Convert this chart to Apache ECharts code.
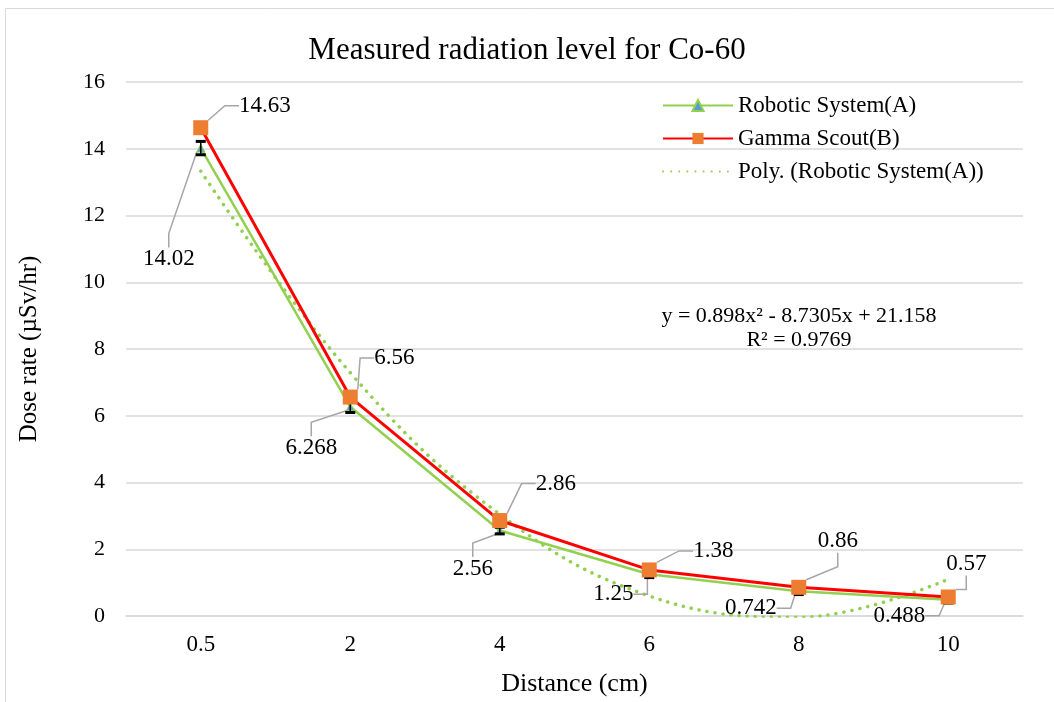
<!DOCTYPE html>
<html>
<head>
<meta charset="utf-8">
<script src="https://cdn.jsdelivr.net/npm/echarts@6/dist/echarts.min.js"></script>
<style>
  html, body { margin: 0; padding: 0; background: #fff; }
  #main { width: 1054px; height: 702px; }
</style>
</head>
<body>
<div id="main"></div>
<script>
// data
const distances = ['0.5', '2', '4', '6', '8', '10'];
const robotA = [14.02, 6.268, 2.56, 1.25, 0.742, 0.488];
const gammaB = [14.63, 6.56, 2.86, 1.38, 0.86, 0.57];
const polyTrendA = [13.33, 7.29, 3.05, 0.60, -0.04, 1.10];
const errA = [0.2, 0.17, 0.1, 0.1, 0.1, 0.1];
const trendText = ['y = 0.898x\u00b2 - 8.7305x + 21.158', 'R\u00b2 = 0.9769'];

const font = "'Liberation Serif', 'Times New Roman', serif";

// label offsets (px from the marker centre)
const offB = [[64, -22], [44, -39], [56, -37], [64, -19], [39, -46], [18, -33]];
const offA = [[-32, 111], [-39, 41], [-27, 38], [-36, 20], [-48, 17], [-49, 16]];

function placeLabel(offsets) {
  return function (params) {
    let o = offsets[params.dataIndex];
    return {
      x: params.rect.x + params.rect.width / 2 + o[0],
      y: params.rect.y + params.rect.height / 2 + o[1],
      align: 'center',
      verticalAlign: 'middle'
    };
  };
}

let myChart = echarts.init(document.getElementById('main'));

let options = {
  backgroundColor: '#fff',
  textStyle: { fontFamily: font, color: '#000' },
  title: {
    text: 'Measured radiation level for Co-60',
    left: 'center',
    top: 30,
    textStyle: { fontFamily: font, fontSize: 31, fontWeight: 'normal', color: '#000' }
  },
  grid: { left: 126, right: 31, top: 82, bottom: 82 },
  legend: {
    data: [
      { name: 'Robotic System(A)' },
      { name: 'Gamma Scout(B)' },
      { name: 'Poly. (Robotic System(A))', itemStyle: { opacity: 0 } }
    ],
    orient: 'vertical',
    left: 657,
    top: 89,
    itemWidth: 70,
    itemHeight: 14,
    itemGap: 10,
    textStyle: { fontFamily: font, fontSize: 23, color: '#000' }
  },
  xAxis: {
    type: 'category',
    data: distances,
    name: 'Distance (cm)',
    nameLocation: 'middle',
    nameGap: 55,
    nameTextStyle: { fontFamily: font, fontSize: 26, color: '#000' },
    axisLine: { lineStyle: { color: '#d9d9d9', width: 1.5 } },
    axisTick: { show: false },
    axisLabel: { fontFamily: font, fontSize: 23, color: '#000', margin: 17 }
  },
  yAxis: {
    type: 'value',
    min: 0,
    max: 16,
    interval: 2,
    name: 'Dose rate (\u00b5Sv/hr)',
    nameLocation: 'middle',
    nameGap: 84,
    nameTextStyle: { fontFamily: font, fontSize: 25, color: '#000' },
    axisLine: { show: false },
    axisTick: { show: false },
    splitLine: { lineStyle: { color: '#d9d9d9', width: 1.5 } },
    axisLabel: { fontFamily: font, fontSize: 22, color: '#000', margin: 21 }
  },
  graphic: [
    {
      type: 'rect',
      shape: { x: 5.5, y: 8.5, width: 1060, height: 700 },
      style: { fill: 'none', stroke: '#d9d9d9', lineWidth: 1 },
      silent: true
    },
    {
      type: 'text',
      style: {
        x: 799, y: 316, text: trendText[0],
        fontFamily: font, fontSize: 22, fill: '#000',
        align: 'center', verticalAlign: 'middle'
      }
    },
    {
      type: 'text',
      style: {
        x: 799, y: 340, text: trendText[1],
        fontFamily: font, fontSize: 22, fill: '#000',
        align: 'center', verticalAlign: 'middle'
      }
    }
  ],
  series: [
    {
      name: 'Poly. (Robotic System(A))',
      type: 'line',
      data: polyTrendA,
      smooth: 0.4,
      symbol: 'none',
      z: 1,
      lineStyle: { color: '#92d050', width: 3.5, type: [0.1, 8], cap: 'round' },
      itemStyle: { color: '#92d050' }
    },
    {
      name: 'Robotic System(A)',
      type: 'line',
      data: robotA,
      symbol: 'triangle',
      symbolSize: 8,
      z: 2,
      lineStyle: { color: '#92d050', width: 2.5 },
      itemStyle: { color: '#5b9bd5', borderColor: '#92d050', borderWidth: 1 },
      label: {
        show: true,
        fontFamily: font,
        fontSize: 23,
        color: '#000'
      },
      labelLine: { show: true, length2: 14, lineStyle: { color: '#a6a6a6', width: 1.5 } },
      labelLayout: placeLabel(offA)
    },
    {
      name: 'errA',
      type: 'custom',
      z: 3,
      data: robotA.map((v, i) => [i, v - errA[i], v + errA[i]]),
      renderItem(params, api) {
        let lo = api.coord([api.value(0), api.value(1)]);
        let hi = api.coord([api.value(0), api.value(2)]);
        let w = 5;
        let st = { stroke: '#000', lineWidth: 3 };
        return {
          type: 'group',
          children: [
            { type: 'line', shape: { x1: lo[0], y1: lo[1], x2: hi[0], y2: hi[1] }, style: { stroke: '#000', lineWidth: 1.5 } },
            { type: 'line', shape: { x1: lo[0] - w, y1: lo[1], x2: lo[0] + w, y2: lo[1] }, style: st },
            { type: 'line', shape: { x1: hi[0] - w, y1: hi[1], x2: hi[0] + w, y2: hi[1] }, style: st }
          ]
        };
      }
    },
    {
      name: 'Gamma Scout(B)',
      type: 'line',
      data: gammaB,
      symbol: 'rect',
      symbolSize: 15,
      z: 4,
      lineStyle: { color: '#ff0000', width: 3 },
      itemStyle: { color: '#ed7d31' },
      label: {
        show: true,
        fontFamily: font,
        fontSize: 23,
        color: '#000'
      },
      labelLine: { show: true, length2: 14, lineStyle: { color: '#a6a6a6', width: 1.5 } },
      labelLayout: placeLabel(offB)
    }
  ]
};

myChart.setOption(options);
</script>
</body>
</html>
